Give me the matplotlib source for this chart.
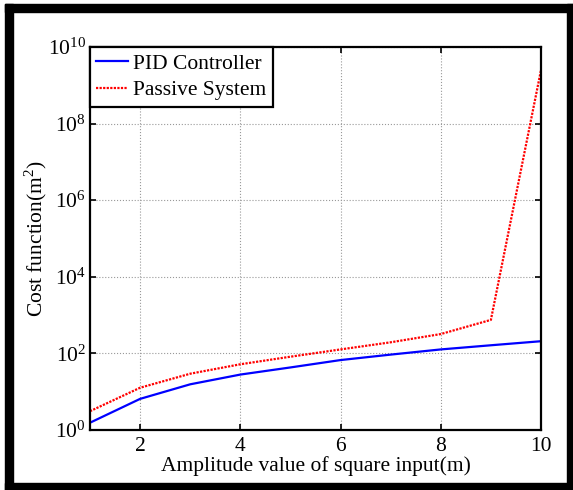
"""Cost function vs amplitude of square input, PID vs passive system."""

import matplotlib

matplotlib.use("Agg")
import matplotlib.pyplot as plt
from matplotlib.patches import Rectangle

amplitude = [1, 2, 3, 4, 5, 6, 7, 8, 9, 10]
pid_cost = [1.55, 6.5, 15.6, 28, 43, 67, 93, 127, 163, 208]
passive_cost = [3.1, 12.7, 29.5, 52, 82, 127, 195, 320, 750, 2.5e9]

x_ticks = [2, 4, 6, 8, 10]
y_ticks = [1e0, 1e2, 1e4, 1e6, 1e8, 1e10]

plt.rcParams["font.family"] = ["Liberation Serif", "DejaVu Serif"]
plt.rcParams["mathtext.fontset"] = "custom"
plt.rcParams["mathtext.rm"] = "Liberation Serif"

FS = 15.5
W, H = 573, 490
fig = plt.figure(figsize=(W / 100, H / 100), dpi=100)
ax = fig.add_axes([90 / W, 1 - 430 / H, (541 - 90) / W, (430 - 47) / H])

ax.plot(amplitude, pid_cost, color="#0000ff", lw=1.6, label="PID Controller")
ax.plot(amplitude, passive_cost, color="#ff0000", lw=1.6, ls=(0, (1, 0.6)),
        label="Passive System")

ax.set_yscale("log")
ax.set_xlim(1, 10)
ax.set_ylim(1e0, 1e10)
ax.set_xticks(x_ticks)
ax.set_yticks(y_ticks)
ax.minorticks_off()
ax.tick_params(direction="in", length=4, width=1.2, labelsize=FS,
               top=True, right=True)
ax.tick_params(axis="x", pad=5)
ax.tick_params(axis="y", pad=3)
for spine in ax.spines.values():
    spine.set_linewidth(1.6)
ax.grid(True, ls=":", color="#999999", lw=0.8)

ax.set_xlabel("Amplitude value of square input(m)", fontsize=FS, labelpad=0)
ax.set_ylabel("Cost function(m$^{2}$)", fontsize=FS, labelpad=-1)

leg = ax.legend(loc="upper left", fontsize=FS, fancybox=False, framealpha=1,
                edgecolor="black", borderaxespad=0, handlelength=1.45,
                borderpad=0.3, labelspacing=0.3, handletextpad=0.25,
                prop={"family": "Liberation Serif", "size": FS})
leg.get_frame().set_linewidth(1.6)

# thick black frame around the whole picture
for x0, y0, w, h in [(5, 4, 8, 486), (5, 4, 568, 8), (567, 4, 6, 486), (5, 483, 568, 7)]:
    fig.patches.append(Rectangle((x0 / W, 1 - (y0 + h) / H), w / W, h / H,
                                 transform=fig.transFigure, color="black", zorder=10))

fig.savefig("out.png", dpi=100)
